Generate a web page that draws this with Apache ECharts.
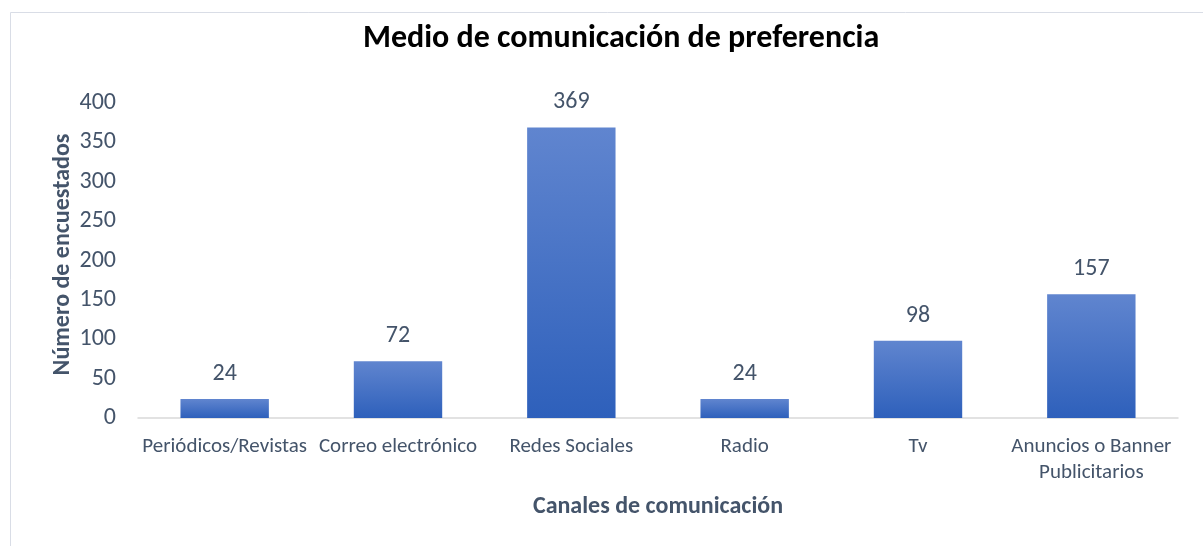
<!DOCTYPE html>
<html>
<head>
<meta charset="utf-8">
<script src="https://cdn.jsdelivr.net/npm/echarts@6/dist/echarts.min.js"></script>
<style>
html,body{margin:0;padding:0;background:#fff;}
#chart{width:1203px;height:546px;}
</style>
</head>
<body>
<div id="chart"></div>
<script>
const titleText = 'Medio de comunicación de preferencia';
const categories = ['Periódicos/Revistas', 'Correo electrónico', 'Redes Sociales', 'Radio', 'Tv', 'Anuncios o Banner Publicitarios'];
const values = [24, 72, 369, 24, 98, 157];
const yAxisName = 'Número de encuestados';
const xAxisName = 'Canales de comunicación';

const FONT = 'Carlito, Lato, "Open Sans", sans-serif';
const TXT = '#44546A';
const chart = echarts.init(document.getElementById('chart'), null, {renderer: 'canvas'});
chart.setOption({
  backgroundColor: '#ffffff',
  textStyle: {fontFamily: FONT},
  graphic: [{
    type: 'rect', left: 8, top: 10,
    shape: {width: 1200, height: 540},
    style: {fill: 'none', stroke: '#d9dde6', lineWidth: 1}
  }],
  title: {
    text: titleText, left: 358, top: 18,
    textStyle: {fontFamily: FONT, fontSize: 32, fontWeight: 'bold', color: '#000'}
  },
  grid: {left: 138, right: 25, top: 103, bottom: 128, containLabel: false},
  xAxis: {
    type: 'category', data: categories,
    name: xAxisName, nameLocation: 'middle', nameGap: 77,
    nameTextStyle: {fontFamily: FONT, fontSize: 24, fontWeight: 'bold', color: TXT},
    axisLine: {lineStyle: {color: '#d9d9d9', width: 1.5}},
    axisTick: {show: false},
    axisLabel: {
      interval: 0, margin: 16, fontSize: 21, color: TXT, fontFamily: FONT, lineHeight: 26,
      formatter: v => v.replace('o Banner ', 'o Banner\n')
    }
  },
  yAxis: {
    type: 'value', min: 0, max: 400, interval: 50,
    name: yAxisName, nameLocation: 'middle', nameGap: 63, nameRotate: 90,
    nameMoveOverlap: false,
    nameTextStyle: {fontFamily: FONT, fontSize: 24, fontWeight: 'bold', color: TXT, padding: [0, 0, 0, 12]},
    axisLine: {show: false}, axisTick: {show: false}, splitLine: {show: false},
    axisLabel: {margin: 22, fontSize: 24, color: TXT, fontFamily: FONT}
  },
  series: [{
    type: 'bar', data: values, barCategoryGap: '49%',
    itemStyle: {
      color: new echarts.graphic.LinearGradient(0, 0, 0, 1, [
        {offset: 0, color: '#6085cf'},
        {offset: 1, color: '#2e60bb'}
      ])
    },
    label: {show: true, position: 'top', distance: 13, fontSize: 24, color: TXT, fontFamily: FONT}
  }]
});
</script>
</body>
</html>
